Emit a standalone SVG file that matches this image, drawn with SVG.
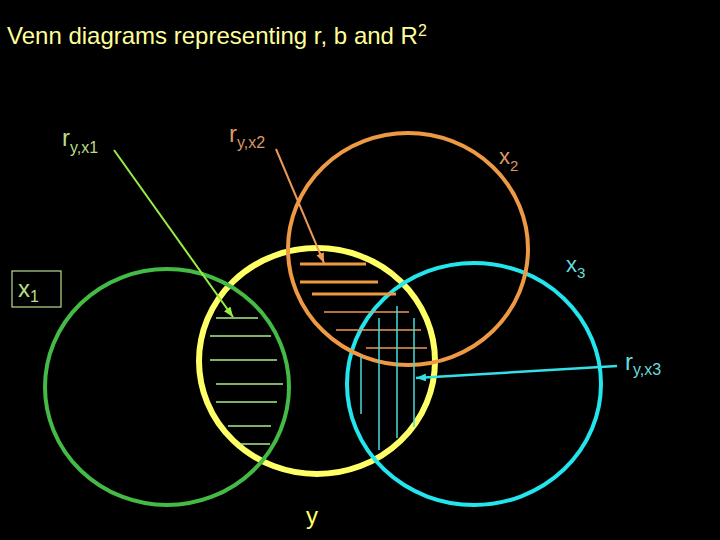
<svg xmlns="http://www.w3.org/2000/svg" width="720" height="540" viewBox="0 0 720 540">
<defs>
<style>
text{font-family:"Liberation Sans",Arial,sans-serif}
.title{fill:#ffff99;font-size:24px}
.lg{fill:#bbdd88}
.lo{fill:#dd9966}
.lc{fill:#66dddd}
.ly{fill:#ffff66}
.big{font-size:24px}
.sub{font-size:16px}
.circ{fill:none}
.hg{stroke:#aaee88;stroke-width:1.5}
.ho{stroke:#ee9944;stroke-width:3}
.hot{stroke:#ee9955;stroke-width:1.5}
.hc{stroke:#44dddd;stroke-width:1.5}
</style>
<marker id="ag" viewBox="0 0 10 8" refX="10" refY="4" markerWidth="10" markerHeight="8" markerUnits="userSpaceOnUse" orient="auto"><path d="M0,0 L10,4 L0,8 z" fill="#99ee44"/></marker>
<marker id="ao" viewBox="0 0 10 8" refX="10" refY="4" markerWidth="10" markerHeight="8" markerUnits="userSpaceOnUse" orient="auto"><path d="M0,0 L10,4 L0,8 z" fill="#ee9955"/></marker>
<marker id="ac" viewBox="0 0 10 8" refX="10" refY="4" markerWidth="10" markerHeight="8" markerUnits="userSpaceOnUse" orient="auto"><path d="M0,0 L10,4 L0,8 z" fill="#33e0e8"/></marker>
</defs>
<rect width="720" height="540" fill="#000"/>
<text class="title" x="7" y="44">Venn diagrams representing r, b and R<tspan font-size="16" dy="-8">2</tspan></text>

<g id="y">
<ellipse class="circ" cx="317" cy="361" rx="118" ry="113" stroke="#ffff66" stroke-width="6"/>
<text class="ly big" x="306" y="524">y</text>
</g>
<g id="x3">
<ellipse class="circ" cx="474" cy="384" rx="127" ry="121" stroke="#22e5ee" stroke-width="4"/>
<text class="lc" x="566" y="272"><tspan font-size="22">x</tspan><tspan font-size="15" dy="6">3</tspan></text>
</g>
<g id="x2">
<ellipse class="circ" cx="408" cy="249" rx="120" ry="116" stroke="#ee9944" stroke-width="4"/>
<text class="lo" x="499" y="164"><tspan font-size="22">x</tspan><tspan font-size="15" dy="7">2</tspan></text>
</g>
<g id="x1">
<ellipse class="circ" cx="167" cy="387" rx="122" ry="118" stroke="#44bb44" stroke-width="4"/>
<rect x="12" y="271" width="49" height="36" fill="none" stroke="#bbdd88" stroke-width="1.2"/>
<text class="lg" x="18" y="297"><tspan class="big">x</tspan><tspan class="sub" dy="5">1</tspan></text>
</g>

<g id="hatching">
<line class="hg" x1="216" y1="318" x2="258" y2="318"/>
<line class="hg" x1="210" y1="336" x2="271" y2="336"/>
<line class="hg" x1="210" y1="360" x2="277" y2="360"/>
<line class="hg" x1="216" y1="384" x2="283" y2="384"/>
<line class="hg" x1="216" y1="402" x2="277" y2="402"/>
<line class="hg" x1="228" y1="426" x2="271" y2="426"/>
<line class="hg" x1="240" y1="444" x2="270" y2="444"/>
<line class="ho" x1="300" y1="264" x2="366" y2="264"/>
<line class="ho" x1="300" y1="282" x2="378" y2="282"/>
<line class="ho" x1="312" y1="294" x2="396" y2="294"/>
<line class="hot" x1="324" y1="312" x2="409" y2="312"/>
<line class="hot" x1="336" y1="330" x2="421" y2="330"/>
<line class="hot" x1="366" y1="348" x2="427" y2="348"/>
<line class="hc" x1="361" y1="356" x2="361" y2="414"/>
<line class="hc" x1="379" y1="318" x2="379" y2="450"/>
<line class="hc" x1="397" y1="306" x2="397" y2="438"/>
<line class="hc" x1="414" y1="318" x2="414" y2="427"/>
</g>

<g id="labels">
<text class="lg" x="62" y="146"><tspan class="big">r</tspan><tspan class="sub" dy="7">y,x1</tspan></text>
<text class="lo" x="229" y="142"><tspan class="big">r</tspan><tspan class="sub" dy="6">y,x2</tspan></text>
<text class="lc" x="625" y="370"><tspan class="big">r</tspan><tspan class="sub" dy="5">y,x3</tspan></text>
</g>

<g id="connectors" fill="none">
<line x1="114" y1="150" x2="233" y2="317" stroke="#99ee44" stroke-width="2" marker-end="url(#ag)"/>
<line x1="276" y1="149" x2="324" y2="263" stroke="#ee9955" stroke-width="2" marker-end="url(#ao)"/>
<line x1="617" y1="366" x2="416" y2="378" stroke="#33e0e8" stroke-width="2.5" marker-end="url(#ac)"/>
</g>
</svg>
